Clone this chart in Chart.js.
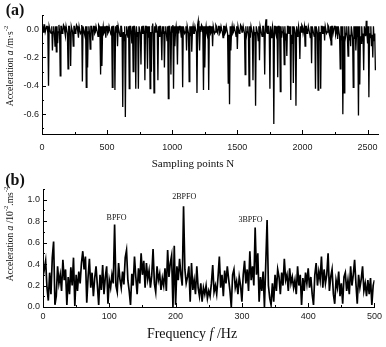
<!DOCTYPE html>
<html>
<head>
<meta charset="utf-8">
<script src="https://cdn.jsdelivr.net/npm/chart.js@4.4.0/dist/chart.umd.min.js"></script>
<style>
    body { margin: 0; background: #fff; }
    #wrap { position: relative; width: 386px; height: 347px; overflow: hidden; }
    canvas { position: absolute; left: 0; }
    #chartA { top: 0; }
    #chartB { top: 170px; }
</style>
</head>
<body>
<div id="wrap">
    <canvas id="chartA" width="386" height="175"></canvas>
    <canvas id="chartB" width="386" height="177"></canvas>
</div>
<script>
// panel (a): time signal, one value every 5 sampling points (each row = 100 points)
const sampleStep = 5;
const accelValues = [
    0.02, -0.02, -0.02, 0.03, 0.03, -0.02, -0.02, 0.02, 0.02, -0.03, -0.40, 0.02, 0.02, -0.02, -0.03, 0.02, -0.15, -0.02, 0.02, -0.03,
    -0.12, 0.02, -0.16, 0.02, -0.10, -0.02, 0.03, -0.02, -0.33, 0.02, 0.02, -0.03, -0.02, 0.03, 0.02, -0.02, -0.05, 0.02, 0.02, -0.03,
    -0.28, 0.02, 0.02, -0.03, -0.26, 0.02, 0.02, -0.02, -0.12, 0.02, 0.02, -0.03, -0.02, 0.03, 0.02, -0.02, -0.06, 0.02, 0.02, -0.03,
    -0.02, 0.03, -0.37, 0.02, 0.02, -0.03, -0.05, 0.02, -0.41, 0.02, -0.27, -0.02, 0.02, -0.03, -0.14, 0.02, 0.02, -0.02, -0.08, 0.02,
    0.02, -0.03, -0.02, 0.02, 0.02, -0.02, -0.05, 0.03, 0.02, -0.02, -0.32, 0.02, -0.26, -0.02, 0.02, -0.03, -0.02, 0.02, -0.06, 0.02,
    0.02, -0.03, -0.02, 0.02, 0.02, -0.02, -0.04, 0.02, -0.41, 0.02, 0.02, -0.03, -0.43, 0.02, -0.02, 0.03, -0.12, 0.02, 0.02, -0.03,
    -0.05, 0.02, 0.02, -0.03, -0.55, -0.02, -0.08, 0.02, -0.62, -0.04, 0.02, -0.03, -0.06, 0.02, -0.42, 0.02, 0.02, -0.03, -0.10, 0.02,
    -0.30, 0.02, 0.02, -0.03, -0.42, 0.02, -0.05, -0.02, -0.42, 0.02, 0.02, -0.03, -0.25, 0.02, -0.03, 0.02, 0.02, -0.02, -0.36, 0.02,
    0.02, -0.03, -0.28, 0.02, -0.06, 0.02, -0.42, -0.02, -0.30, 0.02, 0.04, -0.03, -0.45, 0.02, -0.02, 0.03, 0.02, -0.02, -0.36, 0.02,
    -0.05, 0.02, 0.02, -0.03, -0.22, 0.02, -0.03, 0.02, -0.27, -0.02, 0.02, -0.03, -0.08, 0.02, -0.49, 0.02, 0.02, -0.03, -0.32, 0.02,
    -0.02, 0.03, -0.42, 0.02, -0.12, -0.02, 0.02, -0.03, -0.25, 0.02, -0.03, 0.02, 0.02, -0.02, -0.06, 0.02, -0.41, 0.02, 0.02, -0.03,
    -0.02, 0.02, -0.15, 0.02, 0.02, -0.03, -0.37, 0.02, -0.05, 0.02, -0.16, -0.02, 0.02, -0.03, -0.03, 0.02, 0.02, -0.02, -0.45, 0.03,
    0.06, -0.02, -0.15, 0.02, -0.02, 0.03, 0.02, -0.03, -0.43, 0.02, -0.27, -0.02, 0.02, -0.03, -0.05, 0.02, -0.43, 0.02, 0.02, -0.03,
    -0.02, 0.02, -0.12, 0.02, 0.02, -0.03, -0.02, 0.03, 0.02, -0.02, -0.03, 0.02, 0.02, -0.03, -0.02, 0.02, 0.02, -0.02, -0.06, 0.02,
    0.02, -0.03, -0.02, 0.02, 0.02, -0.03, -0.38, -0.04, -0.53, 0.02, -0.15, -0.02, 0.02, -0.03, -0.02, 0.02, 0.02, -0.02, -0.05, 0.02,
    -0.14, 0.02, 0.02, -0.03, -0.02, 0.03, 0.02, -0.02, -0.02, 0.02, 0.02, -0.03, -0.32, 0.02, -0.05, -0.02, 0.02, -0.03, -0.40, 0.02,
    -0.06, 0.02, 0.02, -0.03, -0.36, 0.02, -0.04, -0.02, -0.54, 0.02, 0.02, -0.03, -0.08, 0.02, -0.22, 0.02, 0.02, -0.03, -0.05, 0.02,
    0.02, -0.03, -0.32, 0.02, 0.07, -0.02, -0.03, 0.02, 0.02, -0.03, -0.42, 0.02, -0.06, -0.02, 0.02, -0.03, -0.67, 0.02, 0.02, -0.03,
    -0.05, 0.02, -0.34, 0.02, 0.02, -0.03, -0.44, 0.02, -0.06, -0.02, 0.02, -0.03, -0.25, 0.02, -0.08, -0.03, -0.19, 0.02, 0.02, -0.03,
    -0.03, 0.02, -0.50, -0.04, -0.10, 0.02, -0.38, 0.02, 0.02, -0.03, -0.54, 0.02, -0.05, -0.02, 0.02, -0.03, -0.21, 0.02, -0.02, 0.03,
    0.02, -0.03, -0.03, 0.02, -0.12, 0.02, 0.02, -0.03, -0.02, 0.02, 0.02, -0.03, -0.06, 0.02, -0.24, 0.02, 0.02, -0.03, -0.05, 0.02,
    -0.42, 0.02, 0.02, -0.03, -0.43, 0.02, -0.08, -0.02, -0.42, 0.02, 0.02, -0.03, -0.03, 0.02, -0.08, 0.02, 0.02, -0.03, -0.02, 0.03,
    0.02, -0.03, -0.05, 0.02, -0.11, 0.02, 0.02, -0.03, -0.03, 0.02, 0.02, -0.04, -0.02, 0.02, -0.07, 0.02, 0.02, -0.05, -0.28, 0.02,
    -0.08, 0.02, -0.60, -0.05, -0.45, 0.02, -0.06, -0.03, 0.02, -0.06, -0.19, 0.02, -0.08, -0.04, -0.12, 0.02, 0.02, -0.06, -0.41, 0.02,
    -0.07, 0.02, -0.15, -0.04, 0.02, -0.06, -0.61, 0.02, -0.39, -0.05, -0.10, 0.02, -0.06, -0.03, -0.29, 0.02, 0.02, -0.05, 0.06, -0.03,
    -0.10, 0.02, -0.48, -0.03, -0.06, 0.02, -0.12, -0.04, -0.20, 0.02, -0.08, -0.03, -0.29
];
const accelTicksX = [0, 500, 1000, 1500, 2000, 2500];
const accelTicksY = [-0.6, -0.4, -0.2, 0.0];

// panel (b): spectrum, one value every 2 Hz
const freqStep = 2;
const spectrumValues = [
    0.28, 0.35, 0.43, 0.18, 0.06, 0.32, 0.12, 0.46, 0.61, 0.02,
    0.10, 0.38, 0.22, 0.30, 0.15, 0.44, 0.25, 0.35, 0.02, 0.28,
    0.12, 0.37, 0.20, 0.46, 0.01, 0.30, 0.15, 0.33, 0.22, 0.41,
    0.52, 0.35, 0.47, 0.04, 0.28, 0.45, 0.18, 0.32, 0.10, 0.27,
    0.38, 0.20, 0.02, 0.30, 0.16, 0.39, 0.12, 0.28, 0.38, 0.03,
    0.25, 0.18, 0.30, 0.22, 0.77, 0.20, 0.14, 0.41, 0.26, 0.18,
    0.33, 0.21, 0.46, 0.53, 0.25, 0.15, 0.02, 0.31, 0.20, 0.47,
    0.28, 0.12, 0.36, 0.22, 0.50, 0.30, 0.43, 0.18, 0.41, 0.26,
    0.34, 0.18, 0.29, 0.54, 0.22, 0.14, 0.38, 0.25, 0.31, 0.16,
    0.27, 0.20, 0.36, 0.15, 0.53, 0.28, 0.41, 0.48, 0.00, 0.57,
    0.02, 0.38, 0.25, 0.45, 0.30, 0.20, 0.94, 0.35, 0.22, 0.28,
    0.38, 0.05, 0.41, 0.16, 0.25, 0.12, 0.38, 0.18, 0.10, 0.22,
    0.05, 0.18, 0.12, 0.20, 0.08, 0.15, 0.10, 0.22, 0.39, 0.14,
    0.20, 0.12, 0.28, 0.47, 0.18, 0.30, 0.10, 0.34, 0.22, 0.38,
    0.26, 0.15, 0.00, 0.30, 0.35, 0.18, 0.24, 0.12, 0.28, 0.20,
    0.05, 0.30, 0.43, 0.22, 0.35, 0.15, 0.52, 0.25, 0.38, 0.20,
    0.74, 0.30, 0.50, 0.05, 0.28, 0.15, 0.33, 0.00, 0.40, 0.81,
    0.20, 0.08, 0.02, 0.22, 0.05, 0.30, 0.15, 0.35, 0.28, 0.12,
    0.32, 0.20, 0.45, 0.25, 0.30, 0.15, 0.36, 0.22, 0.28, 0.18,
    0.25, 0.12, 0.38, 0.20, 0.30, 0.02, 0.27, 0.15, 0.32, 0.22,
    0.36, 0.18, 0.28, 0.12, 0.02, 0.30, 0.41, 0.20, 0.33, 0.25,
    0.47, 0.18, 0.35, 0.22, 0.30, 0.50, 0.15, 0.28, 0.35, 0.12,
    0.03, 0.25, 0.18, 0.33, 0.10, 0.22, 0.03, 0.28, 0.32, 0.15,
    0.25, 0.12, 0.38, 0.20, 0.30, 0.44, 0.22, 0.03, 0.30, 0.18,
    0.26, 0.38, 0.15, 0.22, 0.10, 0.25, 0.12, 0.27, 0.02, 0.20,
    0.25
];
const freqTicksX = [0, 100, 200, 300, 400, 500];
const freqTicksY = [0.0, 0.2, 0.4, 0.6, 0.8, 1.0];

// peak annotations
const peakLabels = ['BPFO', '2BPFO', '3BPFO'];
const peakFreqs = [111, 213, 313];
const peakLabelLevels = [0.835, 1.025, 0.81];

const serif = '"Liberation Serif", "Times New Roman", serif';
const sans = '"Liberation Sans", Arial, sans-serif';

// small ticks pointing into the plot, major and minor
const innerTicks = {
    id: 'innerTicks',
    afterDraw(chart, args, opts) {
        const ctx = chart.ctx;
        const area = chart.chartArea;
        ctx.save();
        ctx.strokeStyle = '#000';
        ctx.lineWidth = 1;
        ['x', 'y'].forEach(axis => {
            const scale = chart.scales[axis];
            const minor = opts[axis + 'Minor'];
            const majors = scale.ticks.map(t => t.value);
            const k0 = Math.ceil(scale.min / minor - 1e-6);
            const k1 = Math.floor(scale.max / minor + 1e-6);
            for (let k = k0; k <= k1; k++) {
                const v = k * minor;
                const isMajor = majors.some(m => Math.abs(m - v) < minor / 10);
                const len = isMajor ? 4 : 2;
                const p = Math.round(scale.getPixelForValue(v)) + 0.5;
                ctx.beginPath();
                if (axis === 'x') {
                    ctx.moveTo(p, area.bottom);
                    ctx.lineTo(p, area.bottom - len);
                } else {
                    ctx.moveTo(area.left, p);
                    ctx.lineTo(area.left + len, p);
                }
                ctx.stroke();
            }
        });
        ctx.restore();
    }
};

// titles with italic letters and superscripts
function drawRich(ctx, parts, x, y, size, rotate) {
    const fontOf = p => (p.italic ? 'italic ' : '') + (p.bold ? 'bold ' : '') +
        (p.sup ? size * 0.7 : size) + 'px ' + serif;
    let total = 0;
    parts.forEach(p => { ctx.font = fontOf(p); total += ctx.measureText(p.t).width; });
    ctx.save();
    ctx.translate(x, y);
    if (rotate) ctx.rotate(-Math.PI / 2);
    ctx.fillStyle = '#111';
    ctx.textBaseline = 'middle';
    ctx.textAlign = 'left';
    let cx = -total / 2;
    parts.forEach(p => {
        ctx.font = fontOf(p);
        ctx.fillText(p.t, cx, p.sup ? -size * 0.38 : 0);
        cx += ctx.measureText(p.t).width;
    });
    ctx.restore();
}

const richTitles = {
    id: 'richTitles',
    afterDraw(chart, args, opts) {
        (opts.items || []).forEach(it => {
            drawRich(chart.ctx, it.parts, it.x, it.y, it.size, it.rotate);
        });
    }
};

const peakText = {
    id: 'peakText',
    afterDatasetsDraw(chart, args, opts) {
        if (!opts.labels) return;
        const ctx = chart.ctx;
        ctx.save();
        ctx.font = '8px ' + serif;
        ctx.fillStyle = '#111';
        ctx.textAlign = 'center';
        ctx.textBaseline = 'middle';
        opts.labels.forEach((lab, i) => {
            ctx.fillText(lab, chart.scales.x.getPixelForValue(opts.freqs[i]),
                chart.scales.y.getPixelForValue(opts.levels[i]));
        });
        ctx.restore();
    }
};

function axisOpts(ticksList, min, max, width, height, pad, fmt) {
    return {
        type: 'linear',
        min: min,
        max: max,
        afterBuildTicks: s => { s.ticks = ticksList.map(v => ({ value: v })); },
        afterFit: s => {
            if (width) s.width = width;
            if (height) s.height = height;
        },
        grid: { display: true, drawOnChartArea: false, drawTicks: false },
        border: { display: true, color: '#000', width: 1 },
        ticks: {
            padding: pad,
            color: '#222',
            font: { family: sans, size: 9 },
            maxRotation: 0,
            autoSkip: false,
            callback: fmt
        }
    };
}

new Chart(document.getElementById('chartA'), {
    type: 'line',
    data: {
        datasets: [{
            data: accelValues.map((v, i) => ({ x: i * sampleStep, y: v })),
            borderColor: '#000',
            borderWidth: 1.3,
            pointRadius: 0,
            tension: 0
        }]
    },
    options: {
        responsive: false,
        animation: false,
        layout: { padding: { top: 15, right: 8, left: 0, bottom: 0 } },
        scales: {
            x: axisOpts(accelTicksX, 0, 2580, 0, 41, 8, v => String(v)),
            y: axisOpts(accelTicksY, -0.74, 0.1, 42, 0, 3, v => v.toFixed(1))
        },
        plugins: {
            legend: { display: false },
            tooltip: { enabled: false },
            innerTicks: { xMinor: 250, yMinor: 0.1 },
            richTitles: {
                items: [
                    { parts: [{ t: '(a)', bold: true }], x: 15, y: 11, size: 16 },
                    { parts: [{ t: 'Acceleration ' }, { t: 'a', italic: true }, { t: ' /m·s' }, { t: '-2', sup: true }],
                      x: 10, y: 66, size: 9.5, rotate: true },
                    { parts: [{ t: 'Sampling points N' }], x: 193, y: 164, size: 11 }
                ]
            }
        }
    },
    plugins: [innerTicks, richTitles]
});

new Chart(document.getElementById('chartB'), {
    type: 'line',
    data: {
        datasets: [{
            data: spectrumValues.map((v, i) => ({ x: i * freqStep, y: v })),
            borderColor: '#000',
            borderWidth: 1.7,
            pointRadius: 0,
            tension: 0
        }]
    },
    options: {
        responsive: false,
        animation: false,
        layout: { padding: { top: 19, right: 10, left: 0, bottom: 0 } },
        scales: {
            x: axisOpts(freqTicksX, 0, 500, 0, 40, 4, v => String(v)),
            y: axisOpts(freqTicksY, 0, 1.1, 43, 0, 3, v => v.toFixed(1))
        },
        plugins: {
            legend: { display: false },
            tooltip: { enabled: false },
            innerTicks: { xMinor: 50, yMinor: 0.1 },
            peakText: { labels: peakLabels, freqs: peakFreqs, levels: peakLabelLevels },
            richTitles: {
                items: [
                    { parts: [{ t: '(b)', bold: true }], x: 15, y: 11, size: 16 },
                    { parts: [{ t: 'Acceleration ' }, { t: 'a', italic: true }, { t: ' /10' }, { t: '-2', sup: true },
                              { t: '.ms' }, { t: '-2', sup: true }],
                      x: 10, y: 64, size: 9.5, rotate: true },
                    { parts: [{ t: 'Frequency ' }, { t: 'f', italic: true }, { t: ' /Hz' }], x: 192, y: 164, size: 14 }
                ]
            }
        }
    },
    plugins: [innerTicks, richTitles, peakText]
});
</script>
</body>
</html>
